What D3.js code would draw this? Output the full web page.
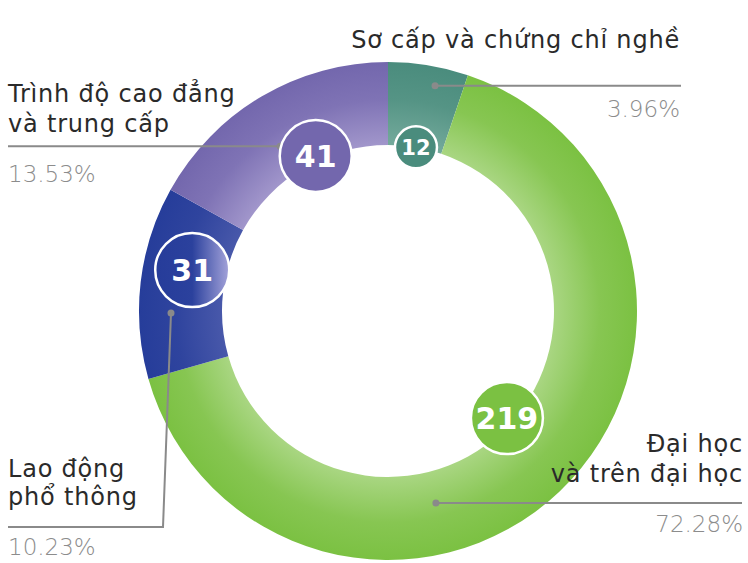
<!DOCTYPE html>
<html>
<head>
<meta charset="utf-8">
<script src="https://d3js.org/d3.v7.min.js"></script>
<style>
  body { margin: 0; background: #fff; }
  text { font-family: "DejaVu Sans", sans-serif; }
</style>
</head>
<body>
<div id="chart"></div>
<script>
// categories, clockwise from 12 o'clock
var categories = ["Sơ cấp và chứng chỉ nghề", "Đại học và trên đại học", "Lao động phổ thông", "Trình độ cao đẳng và trung cấp"];
var labelLines = [["Sơ cấp và chứng chỉ nghề"], ["Đại học", "và trên đại học"], ["Lao động", "phổ thông"], ["Trình độ cao đẳng", "và trung cấp"]];
var counts = [12, 219, 31, 41];
var percents = ["3.96%", "72.28%", "10.23%", "13.53%"];
// slice sizes as they are drawn in the picture (% of the ring)
var arcShares = [5.2, 65.4, 12.5, 16.9];
var darkColors = ["#4a8c7d", "#7bc142", "#263d9a", "#7367ad"];
var lightColors = ["#74aa9c", "#a9d682", "#4858aa", "#a196cb"];

var width = 748, height = 563;
var cx = 388, cy = 311, outerR = 249, innerR = 166;

// annotation layout: angle (deg, clockwise from top) + distance from center
var bubbles = [
  { a: 9.7, d: 166, r: 21, fs: 21 },
  { a: 132, d: 160, r: 36, fs: 30 },
  { a: 281.8, d: 200, r: 37, fs: 30 },
  { a: 335, d: 171, r: 36, fs: 30 }
];
var leaders = [
  { a: 11.8, d: 230, end: 681, side: "right", textX: 680, lines: [48], pctY: 117 },
  { a: 166, d: 198, end: 742, side: "right", textX: 743, lines: [452, 482], pctY: 532 },
  { a: 269.5, d: 217, end: 8, bendX: 163, bendY: 527, side: "left", textX: 8, lines: [477, 505], pctY: 555 },
  { a: 326.8, d: 197, end: 8, side: "left", textX: 8, lines: [102, 132], pctY: 182 }
];

function polar(a, d) {
  var t = a * Math.PI / 180;
  return [cx + d * Math.sin(t), cy - d * Math.cos(t)];
}

var svg = d3.select("#chart").append("svg")
  .attr("width", width)
  .attr("height", height);

var defs = svg.append("defs");
// radial gradients in the ring's own (translated) space: light inside, dark outside
categories.forEach(function (c, i) {
  var g = defs.append("radialGradient")
    .attr("id", "grad" + i)
    .attr("gradientUnits", "userSpaceOnUse")
    .attr("cx", 0).attr("cy", 0).attr("r", outerR);
  g.append("stop").attr("offset", innerR / outerR).attr("stop-color", lightColors[i]);
  g.append("stop").attr("offset", 0.85).attr("stop-color", d3.interpolate(lightColors[i], darkColors[i])(0.75));
  g.append("stop").attr("offset", 1).attr("stop-color", darkColors[i]);
});
var bg = defs.append("linearGradient").attr("id", "bubble31")
  .attr("x1", 0).attr("x2", 1).attr("y1", 0).attr("y2", 0);
bg.append("stop").attr("offset", 0).attr("stop-color", "#263c9a");
bg.append("stop").attr("offset", 0.5).attr("stop-color", "#2b419d");
bg.append("stop").attr("offset", 1).attr("stop-color", "#a4a3da");

var pie = d3.pie().sort(null).value(function (d) { return d; });
var arc = d3.arc().innerRadius(innerR).outerRadius(outerR);

var ring = svg.append("g").attr("transform", "translate(" + cx + "," + cy + ")");
ring.selectAll("path")
  .data(pie(arcShares))
  .enter()
  .append("path")
  .attr("d", arc)
  .attr("fill", function (d, i) { return "url(#grad" + i + ")"; });

// leader lines
var lineColor = "#8a8a8a";
leaders.forEach(function (l, i) {
  var p = polar(l.a, l.d);
  var pts = [p];
  if (l.bendX != null) {
    pts.push([l.bendX, l.bendY]);
    pts.push([l.end, l.bendY]);
  } else {
    pts.push([l.end, p[1]]);
  }
  svg.append("path")
    .attr("d", d3.line()(pts))
    .attr("fill", "none")
    .attr("stroke", lineColor)
    .attr("stroke-width", 2);
  svg.append("circle")
    .attr("cx", p[0]).attr("cy", p[1]).attr("r", 3.5)
    .attr("fill", lineColor);

  var anchor = l.side == "right" ? "end" : "start";
  labelLines[i].forEach(function (t, k) {
    svg.append("text")
      .attr("x", l.textX).attr("y", l.lines[k])
      .attr("text-anchor", anchor)
      .attr("font-size", 24)
      .attr("letter-spacing", 0.8)
      .attr("fill", "#2a2a2a")
      .text(t);
  });
  svg.append("text")
    .attr("x", l.textX).attr("y", l.pctY)
    .attr("text-anchor", anchor)
    .attr("font-size", 23)
    .attr("font-weight", 300)
    .attr("fill", "#8c8c8c")
    .text(percents[i]);
});

// value bubbles
bubbles.forEach(function (b, i) {
  var p = polar(b.a, b.d);
  svg.append("circle")
    .attr("cx", p[0]).attr("cy", p[1]).attr("r", b.r)
    .attr("fill", i == 2 ? "url(#bubble31)" : darkColors[i])
    .attr("stroke", "#fff")
    .attr("stroke-width", 2.5);
  svg.append("text")
    .attr("x", p[0]).attr("y", p[1])
    .attr("dy", "0.36em")
    .attr("text-anchor", "middle")
    .attr("font-size", b.fs)
    .attr("font-weight", "bold")
    .attr("fill", "#fff")
    .text(counts[i]);
});
</script>
</body>
</html>
